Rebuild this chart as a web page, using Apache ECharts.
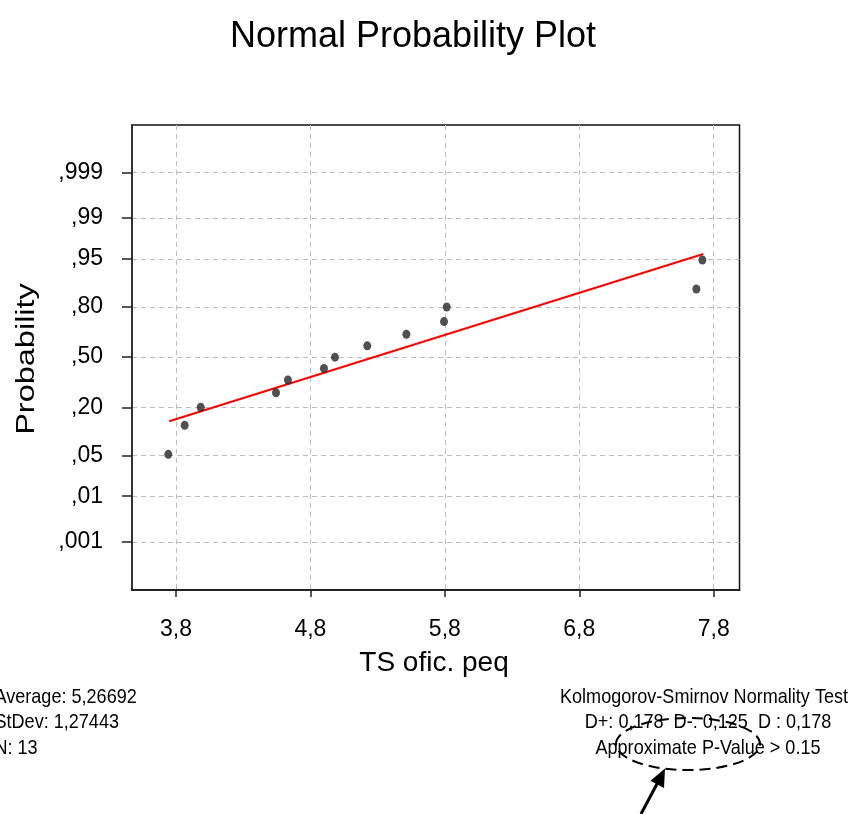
<!DOCTYPE html>
<html>
<head>
<meta charset="utf-8">
<script src="https://cdn.jsdelivr.net/npm/echarts@6/dist/echarts.min.js"></script>
<style>html,body{margin:0;padding:0;background:#fff;}#c{width:857px;height:814px;}</style>
</head>
<body>
<div id="c"></div>
<script>
// ---- data ----
const xValues = [3.743, 3.865, 3.984, 4.544, 4.633, 4.901, 4.983, 5.223, 5.514, 5.794, 5.814, 7.671, 7.716];
const pValues = [0.052, 0.127, 0.201, 0.276, 0.351, 0.425, 0.500, 0.575, 0.649, 0.724, 0.799, 0.873, 0.948];
const fitX = [3.750, 7.723];
const fitP = [0.1419, 0.9577];
const xTicks = [3.8, 4.8, 5.8, 6.8, 7.8];
const pTicks = [0.001, 0.01, 0.05, 0.20, 0.50, 0.80, 0.95, 0.99, 0.999];
const pTickLabels = [',001', ',01', ',05', ',20', ',50', ',80', ',95', ',99', ',999'];
const statsLines = ['Average: 5,26692', 'StDev: 1,27443', 'N: 13'];
const testLines = ['Kolmogorov-Smirnov Normality Test', 'D+: 0,178  D-: 0,125  D : 0,178', 'Approximate P-Value > 0.15'];

// inverse standard normal CDF (probability scale of the y axis)
function qnorm(p){
  const a=[-3.969683028665376e+01,2.209460984245205e+02,-2.759285104469687e+02,1.383577518672690e+02,-3.066479806614716e+01,2.506628277459239e+00];
  const b=[-5.447609879822406e+01,1.615858368580409e+02,-1.556989798598866e+02,6.680131188771972e+01,-1.328068155288572e+01];
  const c=[-7.784894002430293e-03,-3.223964580411365e-01,-2.400758277161838e+00,-2.549732539343734e+00,4.374664141464968e+00,2.938163982698783e+00];
  const d=[7.784695709041462e-03,3.224671290700398e-01,2.445134137142996e+00,3.754408661907416e+00];
  const pl=0.02425, ph=1-pl; let q,r;
  if(p<pl){q=Math.sqrt(-2*Math.log(p));return (((((c[0]*q+c[1])*q+c[2])*q+c[3])*q+c[4])*q+c[5])/((((d[0]*q+d[1])*q+d[2])*q+d[3])*q+1);}
  if(p>ph){q=Math.sqrt(-2*Math.log(1-p));return -(((((c[0]*q+c[1])*q+c[2])*q+c[3])*q+c[4])*q+c[5])/((((d[0]*q+d[1])*q+d[2])*q+d[3])*q+1);}
  q=p-0.5;r=q*q;return (((((a[0]*r+a[1])*r+a[2])*r+a[3])*r+a[4])*r+a[5])*q/(((((b[0]*r+b[1])*r+b[2])*r+b[3])*r+b[4])*r+1);
}

const zTicks = pTicks.map(qnorm);
const points = xValues.map((x, i) => [x, qnorm(pValues[i])]);
const fitLine = fitX.map((x, i) => [x, qnorm(fitP[i])]);

const FONT = "'Liberation Sans', Arial, Helvetica, sans-serif";
const chart = echarts.init(document.getElementById('c'), null, {renderer: 'canvas'});

const graphics = [
  {type:'text', x:413, y:37, style:{text:'Normal Probability Plot', font:'36px ' + FONT, fill:'#000', textAlign:'center', textVerticalAlign:'middle'}},
  {type:'text', x:27, y:359, rotation:Math.PI/2, scaleX:1.3, style:{text:'Probability', font:'25px ' + FONT, fill:'#000', textAlign:'center', textVerticalAlign:'middle'}},
  {type:'text', x:434, y:663, style:{text:'TS ofic. peq', font:'28px ' + FONT, fill:'#000', textAlign:'center', textVerticalAlign:'middle'}}
];
const lineYs = [697, 722.5, 748];
statsLines.forEach((t, i) => graphics.push({type:'text', x:-5.5, y:lineYs[i], scaleX:0.86,
  style:{text:t, font:'21px ' + FONT, fill:'#000', textAlign:'left', textVerticalAlign:'middle'}}));
testLines.forEach((t, i) => graphics.push({type:'text', x:i === 0 ? 704 : 708, y:lineYs[i], scaleX:0.86,
  style:{text:t, font:'21px ' + FONT, fill:'#000', textAlign:'center', textVerticalAlign:'middle'}}));
graphics.push({type:'ellipse', shape:{cx:688, cy:744, rx:72, ry:26},
  style:{fill:'none', stroke:'#000', lineWidth:2, lineDash:[11,6]}, z:10});
graphics.push({type:'line', shape:{x1:641, y1:814, x2:657.5, y2:783}, style:{stroke:'#000', lineWidth:3}, z:10});
graphics.push({type:'polygon', shape:{points:[[665,768.5],[664,788],[650.5,780.8]]}, style:{fill:'#000'}, z:10});

chart.setOption({
  animation: false,
  backgroundColor: '#fff',
  grid: {left:132, top:125, width:607.5, height:465, show:true, borderColor:'#111', borderWidth:1.5, backgroundColor:'transparent', containLabel:false},
  xAxis: {
    type:'value', min:3.473, max:7.992,
    axisLine:{show:true, onZero:false, lineStyle:{color:'#222', width:2}},
    axisTick:{show:true, inside:false, length:7, customValues:xTicks, lineStyle:{color:'#222', width:1.5}},
    axisLabel:{show:true, customValues:xTicks, margin:28, fontSize:23, fontFamily:FONT, color:'#000',
      formatter: v => v.toFixed(1).replace('.', ',')},
    splitLine:{show:true, lineStyle:{color:'#bdbdbd', width:1, type:[5,4]}}
  },
  yAxis: {
    type:'value', min:-3.895, max:3.883,
    axisLine:{show:true, onZero:false, lineStyle:{color:'#333', width:2}},
    axisTick:{show:true, inside:false, length:10, customValues:zTicks, lineStyle:{color:'#222', width:1.5}},
    axisLabel:{show:true, customValues:zTicks, margin:29, fontSize:23, fontFamily:FONT, color:'#000',
      formatter: v => { let best = 0; zTicks.forEach((z, i) => { if (Math.abs(z - v) < Math.abs(zTicks[best] - v)) best = i; }); return pTickLabels[best]; }},
    splitLine:{show:true, lineStyle:{color:'#bdbdbd', width:1, type:[5,4]}}
  },
  series: [
    {type:'line', data:fitLine, symbol:'none', lineStyle:{color:'#ff0000', width:2}, silent:true, z:2},
    {type:'scatter', data:points, symbol:'circle', symbolSize:[8,9], itemStyle:{color:'#262626'}, z:3}
  ],
  graphic: graphics
});
</script>
</body>
</html>
